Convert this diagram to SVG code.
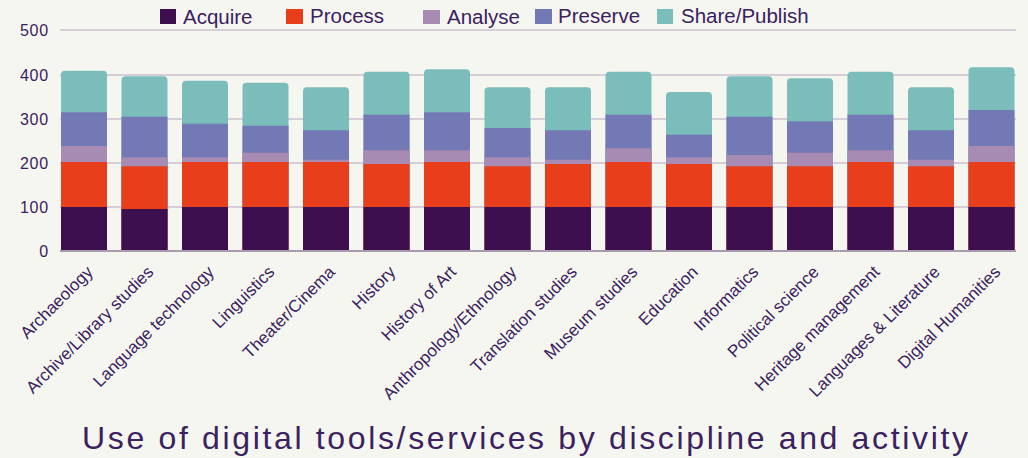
<svg xmlns="http://www.w3.org/2000/svg" width="1028" height="458" viewBox="0 0 1028 458">
<style>
.t{font-family:"Liberation Sans",Arial,sans-serif;fill:#3b2160}
.leg{font-size:20.5px}
.ax{font-size:16px;text-anchor:end;letter-spacing:0.8px}
.xl{font-size:17px;text-anchor:end}
.grid{stroke:#cdbfcf;stroke-width:1.6}
.aq{fill:#3d0f4e}.pr{fill:#e93e1c}.an{fill:#a88bb3}.ps{fill:#7279b4}.sh{fill:#7bbdbb}
</style>
<rect width="1028" height="458" fill="#f6f6f1"/>
<g id="legend">
<rect x="160" y="9" width="16" height="15" class="aq"/><text x="183" y="24" class="t leg">Acquire</text>
<rect x="286" y="9" width="17" height="15" class="pr"/><text x="310" y="22.5" class="t leg">Process</text>
<rect x="423" y="10" width="17" height="14" class="an"/><text x="447" y="24" class="t leg">Analyse</text>
<rect x="535" y="9" width="17" height="15" class="ps"/><text x="558" y="22.5" class="t leg">Preserve</text>
<rect x="657" y="9" width="16" height="15" class="sh"/><text x="681" y="22.5" class="t leg">Share/Publish</text>
</g>
<g id="axis">
<line x1="60" y1="30" x2="1016" y2="30" class="grid"/>
<line x1="60" y1="75" x2="1016" y2="75" class="grid"/>
<line x1="60" y1="119" x2="1016" y2="119" class="grid"/>
<line x1="60" y1="163" x2="1016" y2="163" class="grid"/>
<line x1="60" y1="207" x2="1016" y2="207" class="grid"/>
<text x="49" y="36" class="t ax">500</text>
<text x="49" y="81" class="t ax">400</text>
<text x="49" y="125" class="t ax">300</text>
<text x="49" y="169" class="t ax">200</text>
<text x="49" y="213" class="t ax">100</text>
<text x="49" y="257" class="t ax">0</text>
</g>
<g id="bars">
<g id="b1"><rect x="61" y="70.7" width="46" height="180.3" rx="4" class="sh"/><rect x="61" y="112.3" width="46" height="138.7" class="ps"/><rect x="61" y="146" width="46" height="105" class="an"/><rect x="61" y="162" width="46" height="89" class="pr"/><rect x="61" y="207" width="46" height="44" class="aq"/></g>
<g id="b2"><rect x="121.5" y="76.3" width="46" height="174.7" rx="4" class="sh"/><rect x="121.5" y="116.7" width="46" height="134.3" class="ps"/><rect x="121.5" y="157.3" width="46" height="93.7" class="an"/><rect x="121.5" y="166.3" width="46" height="84.7" class="pr"/><rect x="121.5" y="209" width="46" height="42" class="aq"/></g>
<g id="b3"><rect x="182" y="80.7" width="46" height="170.3" rx="4" class="sh"/><rect x="182" y="123.7" width="46" height="127.3" class="ps"/><rect x="182" y="157.3" width="46" height="93.7" class="an"/><rect x="182" y="162" width="46" height="89" class="pr"/><rect x="182" y="207" width="46" height="44" class="aq"/></g>
<g id="b4"><rect x="242.5" y="82.7" width="46" height="168.3" rx="4" class="sh"/><rect x="242.5" y="125.7" width="46" height="125.3" class="ps"/><rect x="242.5" y="152.7" width="46" height="98.3" class="an"/><rect x="242.5" y="162" width="46" height="89" class="pr"/><rect x="242.5" y="207" width="46" height="44" class="aq"/></g>
<g id="b5"><rect x="303" y="87.3" width="46" height="163.7" rx="4" class="sh"/><rect x="303" y="130.3" width="46" height="120.7" class="ps"/><rect x="303" y="159.7" width="46" height="91.3" class="an"/><rect x="303" y="162" width="46" height="89" class="pr"/><rect x="303" y="207" width="46" height="44" class="aq"/></g>
<g id="b6"><rect x="363.5" y="71.7" width="46" height="179.3" rx="4" class="sh"/><rect x="363.5" y="114.7" width="46" height="136.3" class="ps"/><rect x="363.5" y="150.3" width="46" height="100.7" class="an"/><rect x="363.5" y="164" width="46" height="87" class="pr"/><rect x="363.5" y="207" width="46" height="44" class="aq"/></g>
<g id="b7"><rect x="424" y="69.3" width="46" height="181.7" rx="4" class="sh"/><rect x="424" y="112.3" width="46" height="138.7" class="ps"/><rect x="424" y="150.3" width="46" height="100.7" class="an"/><rect x="424" y="162" width="46" height="89" class="pr"/><rect x="424" y="207" width="46" height="44" class="aq"/></g>
<g id="b8"><rect x="484.5" y="87.3" width="46" height="163.7" rx="4" class="sh"/><rect x="484.5" y="128" width="46" height="123" class="ps"/><rect x="484.5" y="157.3" width="46" height="93.7" class="an"/><rect x="484.5" y="166.3" width="46" height="84.7" class="pr"/><rect x="484.5" y="207" width="46" height="44" class="aq"/></g>
<g id="b9"><rect x="545" y="87.3" width="46" height="163.7" rx="4" class="sh"/><rect x="545" y="130.3" width="46" height="120.7" class="ps"/><rect x="545" y="159.7" width="46" height="91.3" class="an"/><rect x="545" y="164" width="46" height="87" class="pr"/><rect x="545" y="207" width="46" height="44" class="aq"/></g>
<g id="b10"><rect x="605.5" y="71.7" width="46" height="179.3" rx="4" class="sh"/><rect x="605.5" y="114.7" width="46" height="136.3" class="ps"/><rect x="605.5" y="148.3" width="46" height="102.7" class="an"/><rect x="605.5" y="162" width="46" height="89" class="pr"/><rect x="605.5" y="207" width="46" height="44" class="aq"/></g>
<g id="b11"><rect x="666" y="92" width="46" height="159" rx="4" class="sh"/><rect x="666" y="134.7" width="46" height="116.3" class="ps"/><rect x="666" y="157.3" width="46" height="93.7" class="an"/><rect x="666" y="164" width="46" height="87" class="pr"/><rect x="666" y="207" width="46" height="44" class="aq"/></g>
<g id="b12"><rect x="726.5" y="76.3" width="46" height="174.7" rx="4" class="sh"/><rect x="726.5" y="116.7" width="46" height="134.3" class="ps"/><rect x="726.5" y="155" width="46" height="96" class="an"/><rect x="726.5" y="166.3" width="46" height="84.7" class="pr"/><rect x="726.5" y="207" width="46" height="44" class="aq"/></g>
<g id="b13"><rect x="787" y="78.3" width="46" height="172.7" rx="4" class="sh"/><rect x="787" y="121.3" width="46" height="129.7" class="ps"/><rect x="787" y="152.7" width="46" height="98.3" class="an"/><rect x="787" y="166.3" width="46" height="84.7" class="pr"/><rect x="787" y="207" width="46" height="44" class="aq"/></g>
<g id="b14"><rect x="847.5" y="71.7" width="46" height="179.3" rx="4" class="sh"/><rect x="847.5" y="114.7" width="46" height="136.3" class="ps"/><rect x="847.5" y="150.3" width="46" height="100.7" class="an"/><rect x="847.5" y="162" width="46" height="89" class="pr"/><rect x="847.5" y="207" width="46" height="44" class="aq"/></g>
<g id="b15"><rect x="908" y="87.3" width="46" height="163.7" rx="4" class="sh"/><rect x="908" y="130.3" width="46" height="120.7" class="ps"/><rect x="908" y="159.7" width="46" height="91.3" class="an"/><rect x="908" y="166.3" width="46" height="84.7" class="pr"/><rect x="908" y="207" width="46" height="44" class="aq"/></g>
<g id="b16"><rect x="968.5" y="67.3" width="46" height="183.7" rx="4" class="sh"/><rect x="968.5" y="110" width="46" height="141" class="ps"/><rect x="968.5" y="146" width="46" height="105" class="an"/><rect x="968.5" y="162" width="46" height="89" class="pr"/><rect x="968.5" y="207" width="46" height="44" class="aq"/></g>
</g>
<line x1="60" y1="251" x2="1016" y2="251" stroke="#a89ab0" stroke-width="2"/>
<g id="xlabels">
<text transform="translate(94,273) rotate(-45)" class="t xl">Archaeology</text>
<text transform="translate(154.5,273) rotate(-45)" class="t xl">Archive/Library studies</text>
<text transform="translate(215,273) rotate(-45)" class="t xl">Language technology</text>
<text transform="translate(275.5,273) rotate(-45)" class="t xl">Linguistics</text>
<text transform="translate(336,273) rotate(-45)" class="t xl">Theater/Cinema</text>
<text transform="translate(396.5,273) rotate(-45)" class="t xl">History</text>
<text transform="translate(457,273) rotate(-45)" class="t xl">History of Art</text>
<text transform="translate(517.5,273) rotate(-45)" class="t xl">Anthropology/Ethnology</text>
<text transform="translate(578,273) rotate(-45)" class="t xl">Translation studies</text>
<text transform="translate(638.5,273) rotate(-45)" class="t xl">Museum studies</text>
<text transform="translate(699,273) rotate(-45)" class="t xl">Education</text>
<text transform="translate(759.5,273) rotate(-45)" class="t xl">Informatics</text>
<text transform="translate(820,273) rotate(-45)" class="t xl">Political science</text>
<text transform="translate(880.5,273) rotate(-45)" class="t xl">Heritage management</text>
<text transform="translate(941,273) rotate(-45)" class="t xl">Languages &amp; Literature</text>
<text transform="translate(1001.5,273) rotate(-45)" class="t xl">Digital Humanities</text>
</g>
<text x="82" y="449" class="t" font-size="32" textLength="886" lengthAdjust="spacing">Use of digital tools/services by discipline and activity</text>
</svg>
